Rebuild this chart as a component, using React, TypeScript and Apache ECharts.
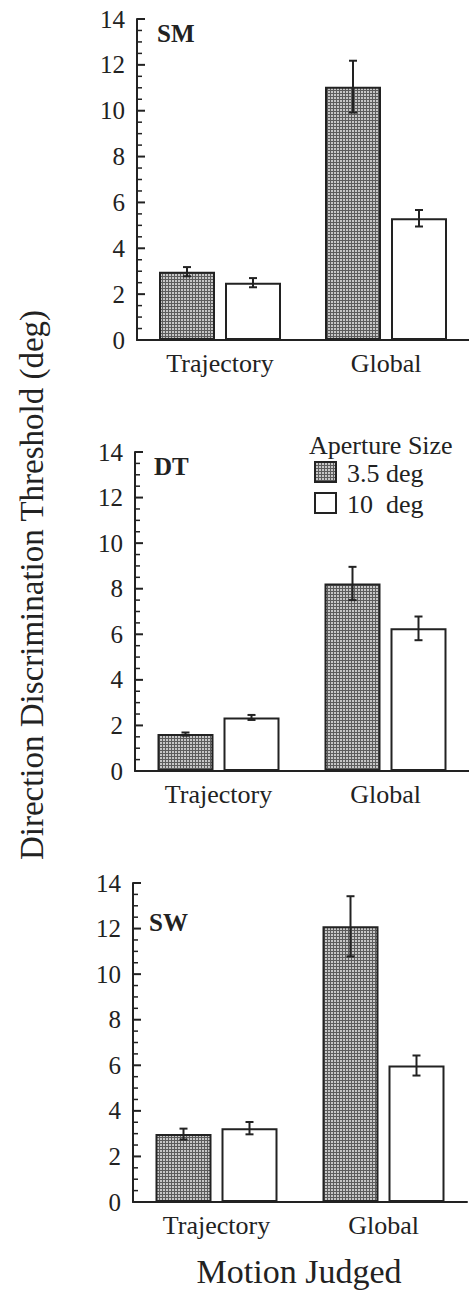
import React, { useEffect, useRef } from "react";
import * as echarts from "echarts";

// ---- data ----
const categories = ["Trajectory", "Global"];
const panelNames = ["SM", "DT", "SW"];
const seriesNames = ["3.5 deg", "10  deg"];

const smSmall = [2.98, 11.05];
const smSmallErr = [0.2, 1.13];
const smLarge = [2.5, 5.31];
const smLargeErr = [0.2, 0.36];

const dtSmall = [1.62, 8.23];
const dtSmallErr = [0.07, 0.73];
const dtLarge = [2.35, 6.26];
const dtLargeErr = [0.11, 0.52];

const swSmall = [2.98, 12.1];
const swSmallErr = [0.24, 1.32];
const swLarge = [3.24, 5.99];
const swLargeErr = [0.27, 0.44];

const yMin = 0;
const yMax = 14;
const yInterval = 2;
const yTickLabels = [0, 2, 4, 6, 8, 10, 12, 14];
const yTickValues = [
  0, 0.5, 1, 1.5, 2, 2.5, 3, 3.5, 4, 4.5, 5, 5.5, 6, 6.5, 7, 7.5, 8, 8.5, 9, 9.5, 10, 10.5, 11, 11.5, 12, 12.5,
  13, 13.5, 14,
];

const panels = [
  { name: panelNames[0], small: smSmall, smallErr: smSmallErr, large: smLarge, largeErr: smLargeErr },
  { name: panelNames[1], small: dtSmall, smallErr: dtSmallErr, large: dtLarge, largeErr: dtLargeErr },
  { name: panelNames[2], small: swSmall, smallErr: swSmallErr, large: swLarge, largeErr: swLargeErr },
];

// ---- layout ----
const W = 469;
const H = 1291;
const grids = [
  { left: 137, top: 19, width: 333, height: 321 },
  { left: 135, top: 452, width: 334, height: 319 },
  { left: 133, top: 883, width: 334, height: 319 },
];
const labelPos = [
  { x: 157, y: 33 },
  { x: 154, y: 466 },
  { x: 149, y: 922 },
];
const INK = "#222";
const FONT = "Liberation Serif";
const BAR_W = 56;
const BAR_GAP = 10;

export default function App() {
  const ref = useRef<HTMLDivElement>(null);
  useEffect(() => {
    if (!ref.current) return;
    const chart = echarts.init(ref.current, undefined, { renderer: "svg" });

    const c = document.createElement("canvas");
    c.width = 3;
    c.height = 3;
    const ctx = c.getContext("2d")!;
    ctx.fillStyle = "#c6c6c6";
    ctx.fillRect(0, 0, 3, 3);
    ctx.fillStyle = "#5c5c5c";
    ctx.fillRect(0, 0, 3, 1);
    ctx.fillRect(0, 0, 1, 3);
    const pattern: any = { image: c, repeat: "repeat" };

    const xAxis: any[] = [];
    const yAxis: any[] = [];
    const series: any[] = [];
    const graphic: any[] = [];

    panels.forEach((p, i) => {
      xAxis.push({
        type: "category",
        gridIndex: i,
        data: categories,
        axisLine: { lineStyle: { color: INK, width: 2 } },
        axisTick: { show: false },
        axisLabel: { show: false },
      });
      yAxis.push({
        type: "value",
        gridIndex: i,
        min: yMin,
        max: yMax,
        interval: yInterval,
        axisLine: { show: true, lineStyle: { color: INK, width: 2 } },
        axisTick: { show: false },
        splitLine: { show: false },
        axisLabel: { show: false },
      });
      // inward ticks on the y axis
      series.push({
        type: "custom",
        xAxisIndex: i,
        yAxisIndex: i,
        z: 6,
        silent: true,
        data: yTickValues.map((v) => [0, v]),
        renderItem: (params: any, api: any) => {
          const v = api.value(1);
          const y = api.coord([0, v])[1];
          const x0 = params.coordSys.x;
          const major = v % yInterval === 0;
          return {
            type: "line",
            shape: { x1: x0, y1: y, x2: x0 + (major ? 8 : 5), y2: y },
            style: { stroke: INK, lineWidth: major ? 2 : 1.5 },
          };
        },
      });
      // y tick labels
      series.push({
        type: "custom",
        xAxisIndex: i,
        yAxisIndex: i,
        silent: true,
        data: yTickLabels.map((v) => [0, v]),
        renderItem: (params: any, api: any) => {
          const v = api.value(1);
          const y = api.coord([0, v])[1];
          return {
            type: "text",
            x: params.coordSys.x - 12,
            y,
            style: {
              text: String(v),
              fontFamily: FONT,
              fontSize: 25,
              fill: INK,
              align: "right",
              verticalAlign: "middle",
            },
          };
        },
      });
      // category labels
      series.push({
        type: "custom",
        xAxisIndex: i,
        yAxisIndex: i,
        silent: true,
        data: categories.map((_, k) => [k, 0]),
        renderItem: (params: any, api: any) => {
          const k = api.value(0);
          const pt = api.coord([k, 0]);
          return {
            type: "text",
            x: pt[0],
            y: pt[1] + 10,
            style: {
              text: categories[k],
              fontFamily: FONT,
              fontSize: 26,
              fill: INK,
              align: "center",
              verticalAlign: "top",
            },
          };
        },
      });
      series.push({
        type: "bar",
        name: seriesNames[0],
        xAxisIndex: i,
        yAxisIndex: i,
        data: p.small,
        barWidth: BAR_W,
        barGap: (BAR_GAP / BAR_W) * 100 + "%",
        itemStyle: { color: pattern, borderColor: INK, borderWidth: 2 },
      });
      series.push({
        type: "bar",
        name: seriesNames[1],
        xAxisIndex: i,
        yAxisIndex: i,
        data: p.large,
        barWidth: BAR_W,
        barGap: (BAR_GAP / BAR_W) * 100 + "%",
        itemStyle: { color: "#fff", borderColor: INK, borderWidth: 2 },
      });
      const errData: any[] = [];
      categories.forEach((_, k) => {
        errData.push([k, p.small[k], p.smallErr[k], -1]);
        errData.push([k, p.large[k], p.largeErr[k], 1]);
      });
      series.push({
        type: "custom",
        xAxisIndex: i,
        yAxisIndex: i,
        z: 5,
        data: errData,
        renderItem: (_params: any, api: any) => {
          const cat = api.value(0);
          const m = api.value(1);
          const e = api.value(2);
          const side = api.value(3);
          const top = api.coord([cat, m + e]);
          const bot = api.coord([cat, m - e]);
          const x = top[0] + (side * (BAR_W + BAR_GAP)) / 2;
          const cw = 4;
          const st = { stroke: INK, lineWidth: 2 };
          return {
            type: "group",
            children: [
              { type: "line", shape: { x1: x, y1: top[1], x2: x, y2: bot[1] }, style: st },
              { type: "line", shape: { x1: x - cw, y1: top[1], x2: x + cw, y2: top[1] }, style: st },
              { type: "line", shape: { x1: x - cw, y1: bot[1], x2: x + cw, y2: bot[1] }, style: st },
            ],
          };
        },
      });
      graphic.push({
        type: "text",
        x: labelPos[i].x,
        y: labelPos[i].y,
        style: {
          text: p.name,
          fontFamily: FONT,
          fontWeight: "bold",
          fontSize: 25,
          fill: INK,
          textVerticalAlign: "middle",
        },
      });
    });

    // legend (in middle panel)
    graphic.push(
      {
        type: "text",
        x: 309,
        y: 445,
        style: { text: "Aperture Size", fontFamily: FONT, fontSize: 26, fill: INK, textVerticalAlign: "middle" },
      },
      {
        type: "rect",
        shape: { x: 315, y: 462, width: 21, height: 20 },
        style: { fill: pattern, stroke: INK, lineWidth: 2 },
      },
      {
        type: "text",
        x: 347,
        y: 473,
        style: { text: seriesNames[0], fontFamily: FONT, fontSize: 26, fill: INK, textVerticalAlign: "middle" },
      },
      {
        type: "rect",
        shape: { x: 315, y: 493, width: 21, height: 20 },
        style: { fill: "#fff", stroke: INK, lineWidth: 2 },
      },
      {
        type: "text",
        x: 347,
        y: 504,
        style: { text: seriesNames[1], fontFamily: FONT, fontSize: 26, fill: INK, textVerticalAlign: "middle" },
      },
      {
        type: "text",
        x: 32,
        y: 585,
        rotation: Math.PI / 2,
        style: {
          text: "Direction Discrimination Threshold (deg)",
          fontFamily: FONT,
          fontSize: 33,
          fill: INK,
          textAlign: "center",
          textVerticalAlign: "middle",
        },
      },
      {
        type: "text",
        x: 299,
        y: 1271,
        style: {
          text: "Motion Judged",
          fontFamily: FONT,
          fontSize: 34,
          fill: INK,
          textAlign: "center",
          textVerticalAlign: "middle",
        },
      }
    );

    chart.setOption({
      animation: false,
      backgroundColor: "#fff",
      grid: grids.map((g) => ({ ...g, containLabel: false })),
      xAxis,
      yAxis,
      series,
      graphic,
    });
    return () => chart.dispose();
  }, []);

  return (
    <div
      ref={ref}
      style={{ position: "absolute", left: 0, top: 0, width: W, height: H, background: "#fff" }}
    />
  );
}
